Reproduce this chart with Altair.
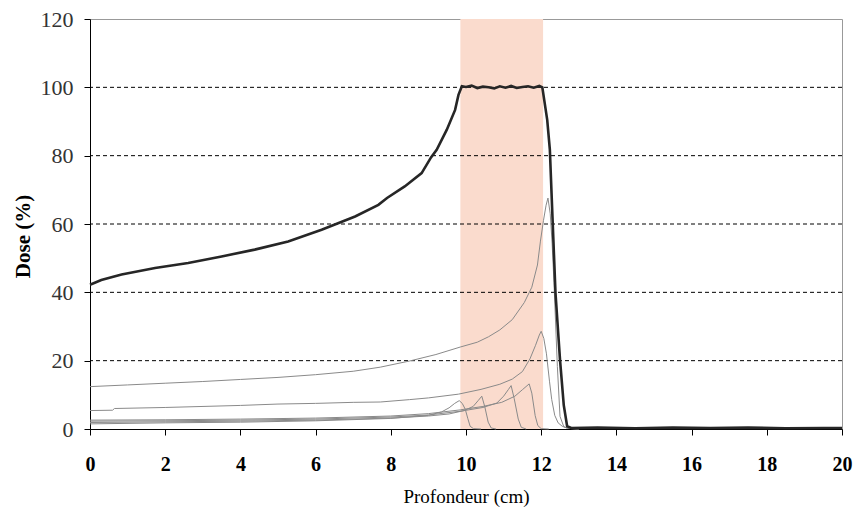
import altair as alt
import pandas as pd

# ---- data ----
# Spread-out Bragg peak (thick curve)
sobp_depth = [0, 0.3, 0.84, 1.73, 2.61, 3.5, 4.38, 5.27, 6.16, 7.05, 7.67, 7.9, 8.37, 8.82, 9.07,
              9.22, 9.49, 9.71, 9.8, 9.89, 10.0, 10.15, 10.3, 10.45, 10.6, 10.75, 10.9, 11.05,
              11.2, 11.35, 11.5, 11.65, 11.8, 11.95, 12.03, 12.16, 12.23, 12.3, 12.38, 12.5,
              12.6, 12.69, 12.8, 13.5, 14.5, 15.5, 16.5, 17.5, 18.5, 19.5, 20]
sobp_dose = [42.2, 43.6, 45.2, 47.1, 48.6, 50.5, 52.5, 54.9, 58.3, 62.2, 65.6, 67.6, 71, 74.9, 79.5,
             81.7, 87.6, 93.4, 97.8, 100.3, 100.1, 100.5, 99.8, 100.2, 100.0, 99.7, 100.3, 99.9,
             100.4, 99.8, 100.1, 100.3, 99.9, 100.4, 100.0, 90.5, 81.8, 62, 39.8, 20.3,
             7, 0.8, 0.3, 0.4, 0.2, 0.4, 0.3, 0.4, 0.2, 0.3, 0.3]

# Individual (weighted) Bragg peaks (thin curves)
peak_a_depth = [0, 1, 2, 3, 4, 5, 6, 7, 7.72, 8.5, 9.2, 9.85, 10.3, 10.6, 10.9, 11.23, 11.55,
                11.75, 11.9, 11.98, 12.06, 12.13, 12.18, 12.24, 12.29, 12.34, 12.43, 12.5,
                12.6, 12.7, 13]
peak_a_dose = [12.4, 12.9, 13.4, 13.9, 14.5, 15.1, 15.9, 16.9, 18.1, 19.9, 21.8, 24, 25.4, 27,
               29, 32, 37, 41.5, 48, 55, 61, 65.5, 67.6, 63, 54.4, 42.8, 18.3, 3.7, 0.7, 0.2, 0]

peak_b_depth = [0, 0.6, 0.65, 2, 4, 5, 6, 7, 7.72, 8.5, 9.0, 9.8, 10.4, 10.9, 11.23, 11.5,
                11.7, 11.85, 11.95, 12.0, 12.07, 12.14, 12.22, 12.28, 12.36, 12.45, 12.56,
                12.7, 13]
peak_b_dose = [5.4, 5.5, 6.0, 6.3, 6.9, 7.3, 7.5, 7.8, 7.9, 8.6, 9.1, 10.2, 11.6, 13.1, 14.6,
               16.8, 20.5, 24.5, 27.5, 28.6, 26.5, 22, 14, 8.6, 4, 1.8, 0.8, 0.2, 0]

peak_c_depth = [0, 2, 4, 6, 8, 9, 9.85, 10.45, 10.95, 11.3, 11.5, 11.68, 11.75, 11.84, 11.91,
                12.0, 12.2]
peak_c_dose = [2.6, 2.7, 2.9, 3.2, 3.8, 4.5, 5.6, 6.6, 7.8, 9.6, 11.5, 13.2, 10.5, 3.9, 1, 0.1, 0]

peak_d_depth = [0, 2, 4, 6, 8, 9, 9.85, 10.45, 10.82, 11.0, 11.13, 11.2, 11.28, 11.39, 11.47, 11.6]
peak_d_dose = [2.3, 2.4, 2.6, 2.9, 3.5, 4.1, 5.2, 6.3, 7.6, 9.6, 11.6, 12.7, 9, 2.9, 0.5, 0]

peak_e_depth = [0, 2, 4, 6, 8, 9, 9.55, 9.95, 10.19, 10.33, 10.42, 10.5, 10.59, 10.67, 10.8]
peak_e_dose = [1.9, 2.1, 2.3, 2.6, 3.2, 3.8, 4.4, 5.4, 6.6, 8.4, 9.6, 6.5, 2, 0.3, 0]

peak_f_depth = [0, 2, 4, 6, 8, 9, 9.35, 9.55, 9.7, 9.82, 9.9, 9.98, 10.05, 10.11, 10.2, 10.4]
peak_f_dose = [1.5, 1.8, 2.0, 2.4, 3.1, 4.0, 5.0, 6.2, 7.5, 8.3, 7.5, 5.8, 3, 0.8, 0.1, 0]

# Shaded target region (cm)
target_start = [9.85]
target_end = [12.05]

grid_values = [20, 40, 60, 80, 100]
x_ticks = [0, 2, 4, 6, 8, 10, 12, 14, 16, 18, 20]
y_ticks = [0, 20, 40, 60, 80, 100, 120]

# ---- tables ----
sobp_df = pd.DataFrame({"depth": sobp_depth, "dose": sobp_dose})
frames = []
for name, d, v in [("A", peak_a_depth, peak_a_dose), ("B", peak_b_depth, peak_b_dose),
                   ("C", peak_c_depth, peak_c_dose), ("D", peak_d_depth, peak_d_dose),
                   ("E", peak_e_depth, peak_e_dose), ("F", peak_f_depth, peak_f_dose)]:
    frames.append(pd.DataFrame({"depth": d, "dose": v, "curve": name}))
peaks_df = pd.concat(frames, ignore_index=True)
target_df = pd.DataFrame({"start": target_start, "end": target_end, "lo": [0], "hi": [120]})
grid_df = pd.DataFrame({"dose": grid_values})

SERIF = "Liberation Serif"
x_scale = alt.Scale(domain=[0, 20], nice=False, zero=False)
y_scale = alt.Scale(domain=[0, 120], nice=False)

x_axis = alt.Axis(values=x_ticks, title="Profondeur (cm)", grid=False, domainColor="black",
                  tickColor="black", tickSize=6, labelFont=SERIF, labelFontSize=20,
                  labelFontWeight="bold", labelColor="black", labelPadding=19,
                  labelFlush=False, labelOverlap=False, titleFont=SERIF, titleFontSize=19,
                  titleFontWeight="normal", titleColor="black", titleBaseline="alphabetic",
                  titleY=73)
y_axis = alt.Axis(values=y_ticks, title="Dose (%)", grid=False, domainColor="black",
                  tickColor="black", tickSize=6, labelFont=SERIF, labelFontSize=22,
                  labelColor="#333333", labelPadding=11, labelOverlap=False,
                  titleFont=SERIF, titleFontSize=21, titleFontWeight="bold",
                  titleColor="black", titleAngle=270, titleX=-67, titleY=217,
                  titleAlign="center", titleBaseline="middle")

shade = alt.Chart(target_df).mark_rect(color="#FADBCD").encode(
    x=alt.X("start:Q", scale=x_scale, axis=x_axis),
    x2="end:Q",
    y=alt.Y("lo:Q", scale=y_scale, axis=y_axis),
    y2="hi:Q",
)

grid = alt.Chart(grid_df).mark_rule(color="black", strokeWidth=1, strokeDash=[4, 3]).encode(
    y=alt.Y("dose:Q", scale=y_scale, axis=y_axis)
)

thin = alt.Chart(peaks_df).mark_line(color="#8a8a8a", strokeWidth=1).encode(
    x=alt.X("depth:Q", scale=x_scale, axis=x_axis),
    y=alt.Y("dose:Q", scale=y_scale, axis=y_axis),
    detail="curve:N",
)

thick = alt.Chart(sobp_df).mark_line(color="#262626", strokeWidth=2.6).encode(
    x=alt.X("depth:Q", scale=x_scale, axis=x_axis),
    y=alt.Y("dose:Q", scale=y_scale, axis=y_axis),
)

chart = alt.layer(shade, grid, thin, thick).properties(
    width=752, height=410,
    autosize=alt.AutoSizeParams(type="none"),
    padding={"left": 90, "top": 19, "right": 13, "bottom": 86},
    background="white",
).configure_view(stroke="#999999", strokeWidth=1)

chart.save("out.html", embed_options={"renderer": "svg", "actions": False})
